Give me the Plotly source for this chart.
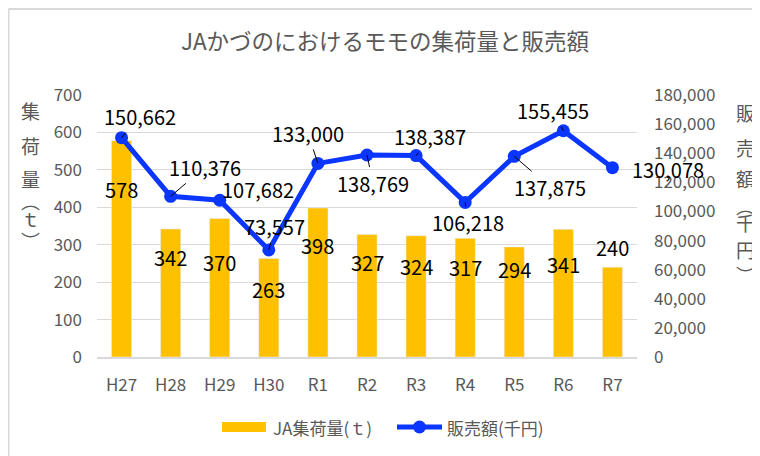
import plotly.graph_objects as go

categories = ["H27", "H28", "H29", "H30", "R1", "R2", "R3", "R4", "R5", "R6", "R7"]
volume_t = [578, 342, 370, 263, 398, 327, 324, 317, 294, 341, 240]
sales_kyen = [150662, 110376, 107682, 73557, 133000, 138769, 138387, 106218, 137875, 155455, 130078]

title_text = "JAかづのにおけるモモの集荷量と販売額"
bar_name = "JA集荷量(ｔ)"
line_name = "販売額(千円)"
left_title_chars = ["集", "荷", "量", "︵", "ｔ", "︶"]
right_title_chars = ["販", "売", "額", "︵", "千", "円", "︶"]

FONT = "Noto Sans CJK JP, Noto Sans, sans-serif"
GRAY = "#595959"
BAR_C = "#FFC000"
LINE_C = "#0A36FF"

# page has an 8px body margin: work in window coords, convert to figure coords
OFF = 8
W, H = 760 - OFF, 456 - OFF
L, T = 97 - OFF, 95 - OFF
R, B = 760 - 637, 456 - 357
PW, PH = W - L - R, H - T - B


def px(x):
    return (x - OFF - L) / PW


def py(y):
    return (H - B - (y - OFF)) / PH


fig = go.Figure()
fig.add_trace(go.Bar(x=categories, y=volume_t, name=bar_name, marker_color=BAR_C,
                     width=0.41, yaxis="y", showlegend=False))
fig.add_trace(go.Scatter(x=categories, y=sales_kyen, name=line_name, mode="lines+markers",
                         line=dict(color=LINE_C, width=5), marker=dict(size=13, color=LINE_C),
                         yaxis="y2", showlegend=False))

annotations = []
LBL = dict(size=20, color="black", family=FONT)
# bar labels: vertical pixel offsets from bar top
bar_yshift = [-49, -29, -44, -31, -37, -28, -31, -29, -23, -35, 20]
for c, v, s in zip(categories, volume_t, bar_yshift):
    annotations.append(dict(x=c, y=v, xref="x", yref="y", text=str(v), showarrow=False,
                            yshift=s, font=LBL))

# line labels: (ax, ay, leader)
line_off = [(18, -21, True), (34, -29, True), (38, -11, False), (6, -23, True), (-10, -30, True),
            (6, 28, True), (14, -19, True), (3, 20, True), (36, 31, True), (-10, -20, True),
            (56, 2, False)]
for c, v, (ax, ay, lead) in zip(categories, sales_kyen, line_off):
    txt = f"{v:,}"
    if lead:
        annotations.append(dict(x=c, y=v, xref="x", yref="y2", text=txt, showarrow=True,
                                ax=ax, ay=ay, arrowhead=0, arrowwidth=1, arrowcolor="black",
                                standoff=0, font=LBL))
    else:
        annotations.append(dict(x=c, y=v, xref="x", yref="y2", text=txt, showarrow=False,
                                xshift=ax, yshift=-ay, font=LBL))

# axis titles (vertical, char by char)
left_ys = [110, 145, 178, 200, 218, 241]
for ch, y in zip(left_title_chars, left_ys):
    annotations.append(dict(x=px(30), y=py(y), xref="paper", yref="paper", text=ch, showarrow=False,
                            xanchor="center", yanchor="middle", font=dict(size=19, color=GRAY, family=FONT)))
right_ys = [112, 147, 178, 205, 222, 250, 274]
for ch, y in zip(right_title_chars, right_ys):
    annotations.append(dict(x=px(745), y=py(y), xref="paper", yref="paper", text=ch, showarrow=False,
                            xanchor="center", yanchor="middle", font=dict(size=19, color=GRAY, family=FONT)))

# custom legend
annotations.append(dict(x=px(271), y=py(427), xref="paper", yref="paper", text=bar_name, showarrow=False,
                        xanchor="left", yanchor="middle", font=dict(size=17, color=GRAY, family=FONT)))
annotations.append(dict(x=px(445), y=py(427), xref="paper", yref="paper", text=line_name, showarrow=False,
                        xanchor="left", yanchor="middle", font=dict(size=17, color=GRAY, family=FONT)))

shapes = [
    dict(type="rect", xref="paper", yref="paper", x0=px(222), x1=px(266), y0=py(432), y1=py(422),
         fillcolor=BAR_C, line=dict(width=0)),
    dict(type="line", xref="paper", yref="paper", x0=px(397), x1=px(442), y0=py(427), y1=py(427),
         line=dict(color=LINE_C, width=5)),
    dict(type="circle", xref="paper", yref="paper", xsizemode="pixel", ysizemode="pixel",
         xanchor=px(419.5), yanchor=py(427), x0=-6.5, x1=6.5, y0=-6.5, y1=6.5,
         fillcolor=LINE_C, line=dict(width=0)),
    # chart frame (left & top)
    dict(type="line", xref="paper", yref="paper", x0=px(8.5), x1=px(8.5), y0=py(9), y1=py(470),
         line=dict(color="#d9d9d9", width=2)),
    dict(type="line", xref="paper", yref="paper", x0=px(8.5), x1=px(770), y0=py(9), y1=py(9),
         line=dict(color="#d9d9d9", width=2)),
]

fig.update_layout(
    width=W, height=H,
    margin=dict(l=L, r=R, t=T, b=B, autoexpand=False),
    paper_bgcolor="white", plot_bgcolor="white",
    font=dict(family=FONT, color=GRAY),
    title=dict(text=title_text, x=(385 - OFF) / W, y=1 - (42 - OFF) / H, xanchor="center",
               yanchor="middle", font=dict(size=22.5, color=GRAY, family=FONT)),
    showlegend=False,
    xaxis=dict(range=[-0.5, len(categories) - 0.5], showgrid=False, showline=True,
               linecolor="#d9d9d9", linewidth=1.5, ticks="",
               tickfont=dict(size=17, color=GRAY), ticklabelstandoff=12),
    yaxis=dict(range=[0, 700], dtick=100, showgrid=True, gridcolor="#d9d9d9", gridwidth=1,
               zeroline=False, ticks="", tickfont=dict(size=17, color=GRAY), ticklabelstandoff=14),
    yaxis2=dict(range=[0, 180000], dtick=20000, overlaying="y", side="right", showgrid=False,
                zeroline=False, ticks="", tickformat=",", tickfont=dict(size=17, color=GRAY),
                ticklabelstandoff=16),
    annotations=annotations,
    shapes=shapes,
)

fig.write_html("out.html")
